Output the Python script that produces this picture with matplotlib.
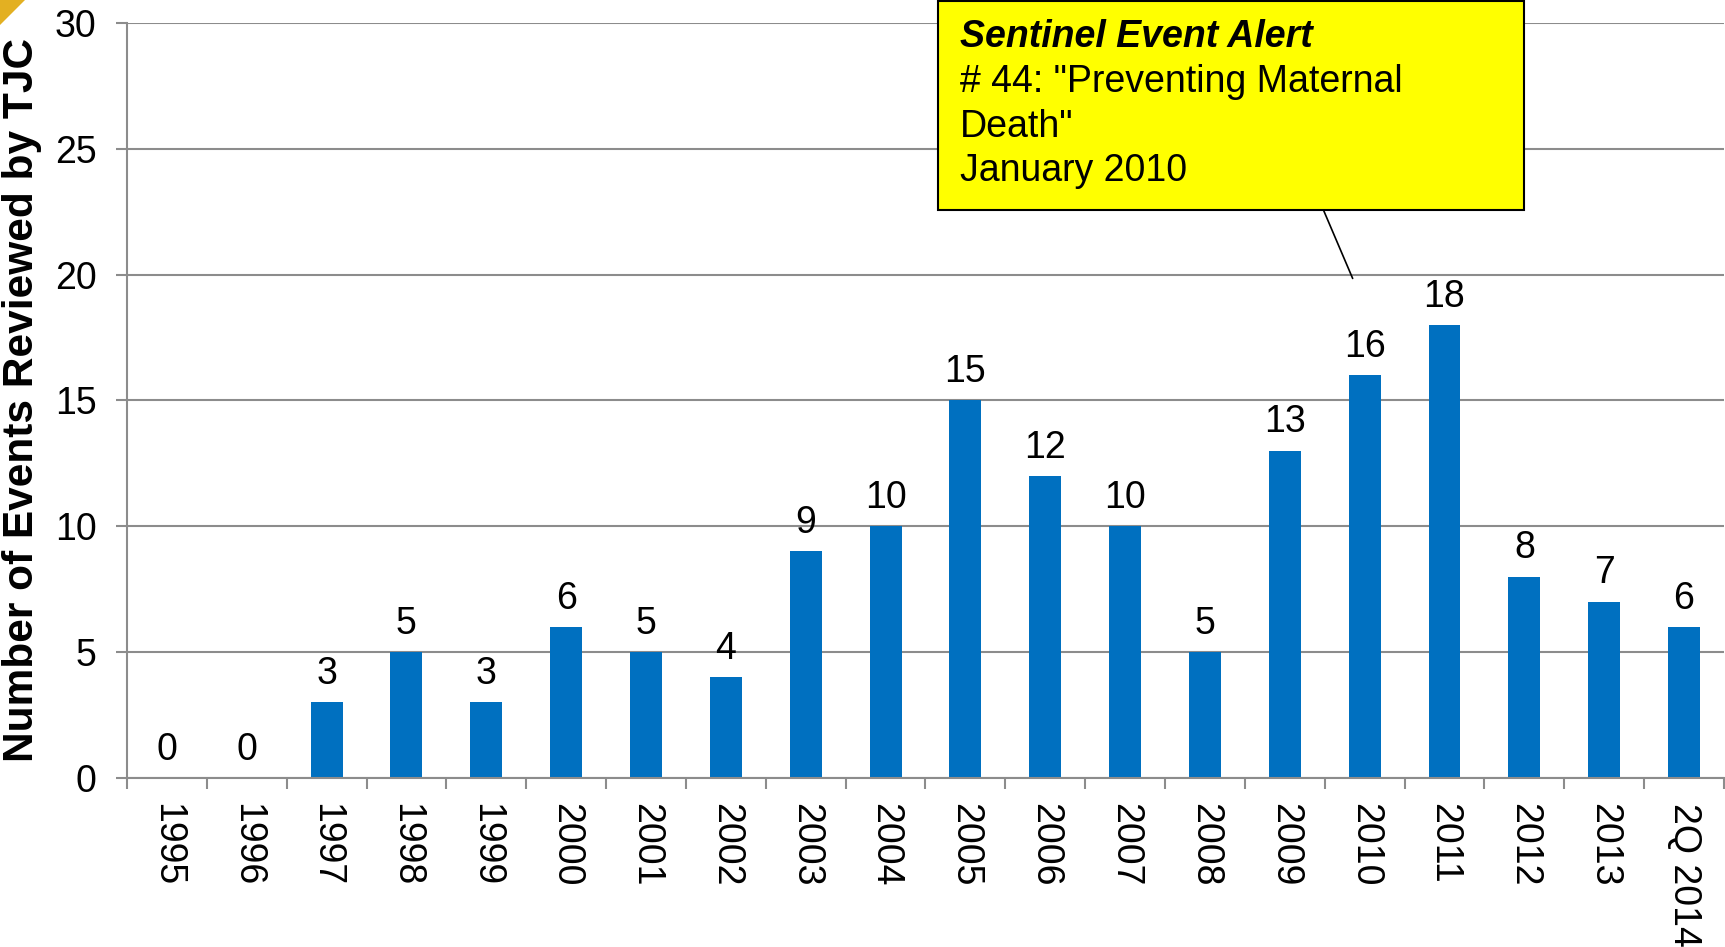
import matplotlib
matplotlib.use('Agg')
import matplotlib.pyplot as plt
from matplotlib.patches import Polygon

plt.rcParams['font.family'] = ['Liberation Sans', 'DejaVu Sans']

# events reviewed per year
years = ['1995', '1996', '1997', '1998', '1999', '2000', '2001', '2002', '2003', '2004',
         '2005', '2006', '2007', '2008', '2009', '2010', '2011', '2012', '2013', '2Q 2014']
counts = [0, 0, 3, 5, 3, 6, 5, 4, 9, 10, 15, 12, 10, 5, 13, 16, 18, 8, 7, 6]

bar_color = '#0070C0'
grid_color = '#8C8C8C'
W, H = 1725, 947

fig = plt.figure(figsize=(17.25, 9.47), dpi=100)
ax = fig.add_axes([0.0736, 0.1785, 0.9258, 0.7972])

x = range(len(years))
ax.bar(x, counts, width=0.4, color=bar_color, zorder=3)

for xi, v in zip(x, counts):
    ax.annotate(str(v), (xi, v), xytext=(0, 7.5), textcoords='offset points',
                ha='center', va='bottom', fontsize=27)

ax.set_xlim(-0.5, len(years) - 0.5)
ax.set_ylim(0, 30)
ax.set_yticks(range(0, 31, 5))
ax.set_xticks(x)
ax.set_xticklabels(years, rotation=270, fontsize=27, va='top', ha='center')
ax.set_xticks([i - 0.5 for i in range(len(years) + 1)], minor=True)
ax.tick_params(axis='x', which='major', length=0, pad=18)
ax.tick_params(axis='x', which='minor', length=8, width=1.5, color=grid_color)
ax.tick_params(axis='y', length=8, width=1.5, color=grid_color, labelsize=27, pad=14)

ax.grid(axis='y', color=grid_color, linewidth=1.5, zorder=0)
for side in ['top', 'right']:
    ax.spines[side].set_visible(False)
for side in ['left', 'bottom']:
    ax.spines[side].set_color(grid_color)
    ax.spines[side].set_linewidth(1.5)
ax.spines['bottom'].set_zorder(4)

ax.set_ylabel('Number of Events Reviewed by TJC', fontsize=30.5, fontweight='bold')
ax.yaxis.set_label_coords(-0.053, 0.5)

# callout box
ax.annotate('', xy=(14.85, 19.85), xytext=(14.48, 22.6),
            arrowprops=dict(arrowstyle='-', color='black', lw=1.2, shrinkA=0, shrinkB=0))
fig.patches.append(plt.Rectangle((938 / W, 1 - 210 / H), (1524 - 938) / W, 209 / H,
                                 transform=fig.transFigure, facecolor='#FFFF00',
                                 edgecolor='black', linewidth=1.5, zorder=5))
fig.text(960 / W, 1 - 37 / H, 'Sentinel Event Alert', fontsize=27,
         fontweight='bold', fontstyle='italic', va='center', zorder=6)
box_lines = ['# 44: "Preventing Maternal', 'Death"', 'January 2010']
for k, line in enumerate(box_lines):
    fig.text(960 / W, 1 - (82 + 44.7 * k) / H, line, fontsize=27, va='center', zorder=6)

# corner decoration
fig.patches.append(Polygon([(0, 1), (25 / W, 1), (0, 1 - 25 / H)], closed=True,
                           transform=fig.transFigure, facecolor='#E3B022', edgecolor='none'))

fig.savefig('out.png', dpi=100)
